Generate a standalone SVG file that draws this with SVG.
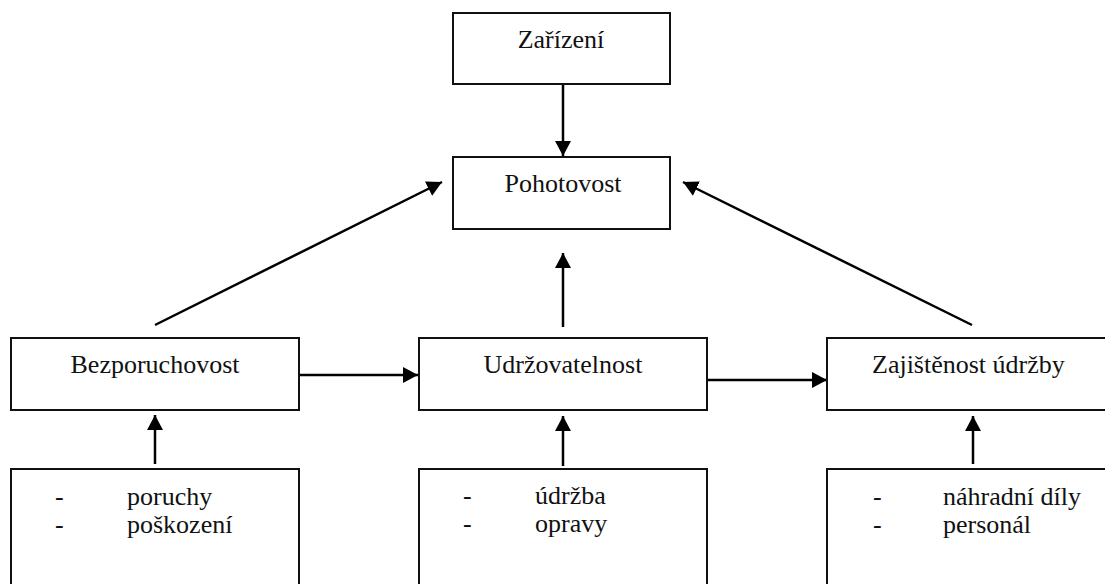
<svg xmlns="http://www.w3.org/2000/svg" width="1105" height="584" viewBox="0 0 1105 584" font-family="Liberation Serif, Times New Roman, serif" font-size="26">
<style>
.box{fill:#fff;stroke:#111;stroke-width:2}
.c{text-anchor:middle}
.ln{stroke:#000;stroke-width:2.5;fill:none}
</style>
<defs>
<marker id="ah" markerUnits="userSpaceOnUse" markerWidth="16" markerHeight="16" refX="15" refY="8" orient="auto" viewBox="0 0 16 16">
<path d="M0,0 L15,8 L0,16 z" fill="#000"/>
</marker>
</defs>
<rect width="1105" height="584" fill="#fff"/>
<g id="connectors">
<line class="ln" marker-end="url(#ah)" x1="563" y1="84" x2="563" y2="156"/>
<line class="ln" marker-end="url(#ah)" x1="155" y1="325" x2="442" y2="182"/>
<line class="ln" marker-end="url(#ah)" x1="972" y1="325" x2="683" y2="182"/>
<line class="ln" marker-end="url(#ah)" x1="563" y1="327" x2="563" y2="253"/>
<line class="ln" marker-end="url(#ah)" x1="299" y1="375" x2="418" y2="375"/>
<line class="ln" marker-end="url(#ah)" x1="707" y1="380" x2="827" y2="380"/>
<line class="ln" marker-end="url(#ah)" x1="155" y1="464" x2="155" y2="415"/>
<line class="ln" marker-end="url(#ah)" x1="563" y1="466" x2="563" y2="416"/>
<line class="ln" marker-end="url(#ah)" x1="973" y1="464" x2="973" y2="416"/>
</g>
<g id="zarizeni">
<rect class="box" x="453" y="13" width="217" height="71"/>
<text class="c" x="561" y="48" font-family="Liberation Serif" font-size="26" fill="#111">Zařízení</text>
</g>
<g id="pohotovost">
<rect class="box" x="453" y="157" width="217" height="72"/>
<text class="c" x="563" y="192" font-family="Liberation Serif" font-size="26" fill="#111">Pohotovost</text>
</g>
<g id="bezporuchovost">
<rect class="box" x="11" y="338" width="288" height="72"/>
<text class="c" x="155" y="373" font-family="Liberation Serif" font-size="26" fill="#111">Bezporuchovost</text>
</g>
<g id="udrzovatelnost">
<rect class="box" x="419" y="338" width="288" height="72"/>
<text class="c" x="563" y="373" font-family="Liberation Serif" font-size="26" fill="#111">Udržovatelnost</text>
</g>
<g id="zajistenost">
<rect class="box" x="827" y="338" width="300" height="72"/>
<text x="872" y="373" font-family="Liberation Serif" font-size="26" fill="#111">Zajištěnost údržby</text>
</g>
<g id="faktory-bezporuchovost" font-family="Liberation Serif" font-size="26" fill="#111">
<rect class="box" x="11" y="469" width="288" height="140"/>
<text x="55" y="505">-</text>
<text x="127" y="505">poruchy</text>
<text x="55" y="533">-</text>
<text x="127" y="533">poškození</text>
</g>
<g id="faktory-udrzovatelnost" font-family="Liberation Serif" font-size="26" fill="#111">
<rect class="box" x="419" y="469" width="288" height="140"/>
<text x="463" y="504">-</text>
<text x="535" y="504">údržba</text>
<text x="463" y="532">-</text>
<text x="535" y="532">opravy</text>
</g>
<g id="faktory-zajistenost" font-family="Liberation Serif" font-size="26" fill="#111">
<rect class="box" x="827" y="469" width="300" height="140"/>
<text x="873" y="505">-</text>
<text x="943" y="505">náhradní díly</text>
<text x="873" y="533">-</text>
<text x="943" y="533">personál</text>
</g>
</svg>
